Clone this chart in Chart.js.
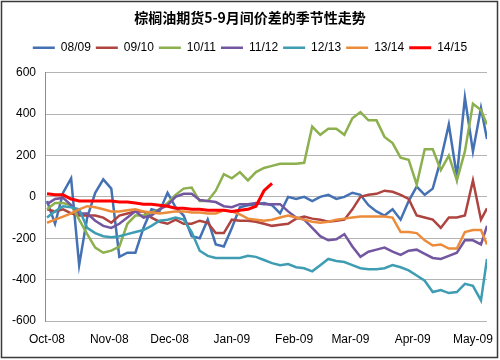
<!DOCTYPE html>
<html>
<head>
<meta charset="utf-8">
<script src="https://cdn.jsdelivr.net/npm/chart.js@4.4.0/dist/chart.umd.min.js"></script>
<style>
  html, body { margin: 0; padding: 0; background: #fff; }
  canvas { display: block; background: #fff; }
</style>
</head>
<body>
<canvas id="seasonChart" width="500" height="360"></canvas>
<script>
// palm oil 5-9 spread, one line per season
const chartTitle = '棕榈油期货5-9月间价差的季节性走势';
const seasons = ['08/09', '09/10', '10/11', '11/12', '12/13', '13/14', '14/15'];
const seasonColors = ['#4471B3', '#AE433F', '#8DB04E', '#7356A0', '#3E9CB3', '#EC8C3A', '#FF0000'];

// days since 1 Oct (season year), sampled every 4 days
const days = [0, 4, 8, 12, 16, 20, 24, 28, 32, 36, 40, 44, 48, 52, 56, 60, 64, 68, 72, 76,
  80, 84, 88, 92, 96, 100, 104, 108, 112, 116, 120, 124, 128, 132, 136, 140, 144, 148, 152, 156,
  160, 164, 168, 172, 176, 180, 184, 188, 192, 196, 200, 204, 208, 212, 216, 219];

const monthDays = [0, 31, 61, 92, 123, 151, 182, 212];
const monthLabels = ['Oct-08', 'Nov-08', 'Dec-08', 'Jan-09', 'Feb-09', 'Mar-09', 'Apr-09', 'May-09'];
const yTicks = [-600, -400, -200, 0, 200, 400, 600];

const s0809 = [-20, -130, 20, 90, -330, -100, 20, 85, 40, -290, -270, -270, -150, -60, -70, 20, -50, -90, -190, -200,
  -110, -230, -240, -150, -50, -40, -35, -30, -40, -80, 0, -10, 0, -20, 0, 10, -10, 0, 20, 10,
  -40, -70, -90, -60, -110, -20, 50, 10, 40, 180, 350, 100, 480, 220, 430, 280];
const s0910 = [-60, -70, -60, -80, -90, -90, -90, -100, -125, -90, -80, -70, -70, -100, -120, -130, -110, -130, -130, -115,
  -125, -175, -175, -110, -115, -115, -120, -130, -140, -135, -130, -105, -95, -105, -110, -120, -115, -110, -60, 0,
  10, 15, 30, 25, 10, -10, -90, -100, -110, -150, -100, -100, -90, 80, -110, -55];
const s1011 = [-60, -30, -30, -40, -110, -180, -245, -270, -260, -240, -130, -90, -90, -75, -60, -30, 10, 40, 45, -20,
  -20, 30, 110, 90, 120, 80, 120, 140, 150, 160, 160, 160, 165, 340, 300, 330, 330, 300, 380, 410,
  370, 370, 290, 260, 190, 180, 60, 230, 230, 130, 200, 80, 220, 450, 420, 350];
const s1112 = [-35, -10, -5, -40, -80, -80, -115, -140, -150, -130, -100, -70, -100, -90, -60, -40, 0, 15, 15, -15,
  -20, -25, -45, -50, -35, -35, -30, -35, -35, -35, -70, -100, -110, -150, -190, -210, -205, -180, -240, -290,
  -265, -255, -245, -265, -280, -260, -255, -275, -295, -300, -285, -270, -210, -210, -230, -140];
const s1213 = [-100, -70, -45, -50, -60, -150, -175, -190, -195, -190, -180, -170, -160, -140, -115, -110, -100, -110, -170, -260,
  -285, -295, -295, -295, -295, -285, -290, -305, -320, -330, -325, -340, -345, -360, -330, -300, -310, -315, -330, -345,
  -350, -350, -345, -330, -340, -355, -380, -405, -460, -450, -465, -460, -420, -430, -500, -300];
const s1314 = [-125, -110, -95, -80, -60, -45, -50, -60, -70, -70, -65, -60, -70, -75, -80, -75, -70, -70, -75, -75,
  -80, -80, -65, -70, -85, -105, -110, -115, -110, -100, -90, -100, -110, -120, -125, -120, -110, -105, -100, -95,
  -95, -95, -95, -100, -170, -170, -175, -210, -235, -230, -250, -250, -170, -160, -160, -230];
const s1415 = [15, 10, 10, -10, -20, -20, -20, -20, -20, -25, -25, -30, -35, -35, -40, -45, -55, -55, -60, -60,
  -65, -65, -65, -70, -65, -60, -45, 30, 65, null, null, null, null, null, null, null, null, null, null, null,
  null, null, null, null, null, null, null, null, null, null, null, null, null, null, null, null];

const seriesValues = [s0809, s0910, s1011, s1112, s1213, s1314, s1415];

const datasets = seasons.map((name, i) => ({
  label: name,
  data: days.map((d, j) => ({ x: d, y: seriesValues[i][j] })),
  borderColor: seasonColors[i],
  backgroundColor: seasonColors[i],
  borderWidth: i === 6 ? 3 : 2.5,
  order: seasons.length - i   // later seasons on top, like the original
}));

// thin frame round the whole picture
const framePlugin = {
  id: 'frame',
  afterDraw(chart) {
    const ctx = chart.ctx;
    ctx.save();
    ctx.strokeStyle = '#3a3a3a';
    ctx.lineWidth = 1.5;
    ctx.strokeRect(1.5, 1.5, 496, 356);
    ctx.restore();
  }
};

// a bit more room under the legend row
const legendGap = {
  id: 'legendGap',
  beforeLayout(chart) {
    const lg = chart.legend;
    if (lg && !lg._gapPatched) {
      const fit = lg.fit;
      lg.fit = function () { fit.call(this); this.height += 9; };
      lg._gapPatched = true;
    }
  }
};

const tickFont = { family: 'Liberation Sans', size: 12 };

new Chart(document.getElementById('seasonChart'), {
  type: 'line',
  data: { datasets: datasets },
  plugins: [framePlugin, legendGap],
  options: {
    responsive: false,
    animation: false,
    devicePixelRatio: 1,
    layout: { padding: { left: 0, right: 0, top: 6, bottom: 0 } },
    elements: { point: { radius: 0 }, line: { tension: 0 } },
    plugins: {
      title: {
        display: true,
        text: chartTitle,
        color: '#000',
        font: { family: '"Noto Sans CJK SC"', size: 14, weight: 'bold' },
        padding: { top: 3, bottom: 11 }
      },
      legend: {
        labels: {
          usePointStyle: true,
          pointStyle: 'line',
          pointStyleWidth: 22,
          padding: 5,
          color: '#000',
          font: tickFont,
          sort: (a, b) => a.datasetIndex - b.datasetIndex
        }
      },
      tooltip: { enabled: false }
    },
    scales: {
      x: {
        type: 'linear',
        min: -1,
        max: 219,
        afterBuildTicks: scale => { scale.ticks = monthDays.map(v => ({ value: v })); },
        afterFit: scale => { scale.height = 39; },
        ticks: {
          callback: (v, i) => monthLabels[i],
          autoSkip: false,
          maxRotation: 0,
          padding: 3,
          color: '#000',
          font: tickFont
        },
        grid: { display: false },
        border: { display: false }
      },
      y: {
        min: -600,
        max: 600,
        afterBuildTicks: scale => { scale.ticks = yTicks.map(v => ({ value: v })); },
        afterFit: scale => { scale.width = 45; },
        ticks: { padding: 9, color: '#000', font: tickFont },
        grid: { color: '#b4b4b4', drawTicks: false },
        border: { color: '#8c8c8c' }
      },
      // empty strip on the right so the plot stops short of the frame
      yRight: {
        position: 'right',
        afterFit: scale => { scale.width = 13; },
        ticks: { display: false },
        grid: { display: false, drawTicks: false },
        border: { display: false }
      }
    }
  }
});
</script>
</body>
</html>
